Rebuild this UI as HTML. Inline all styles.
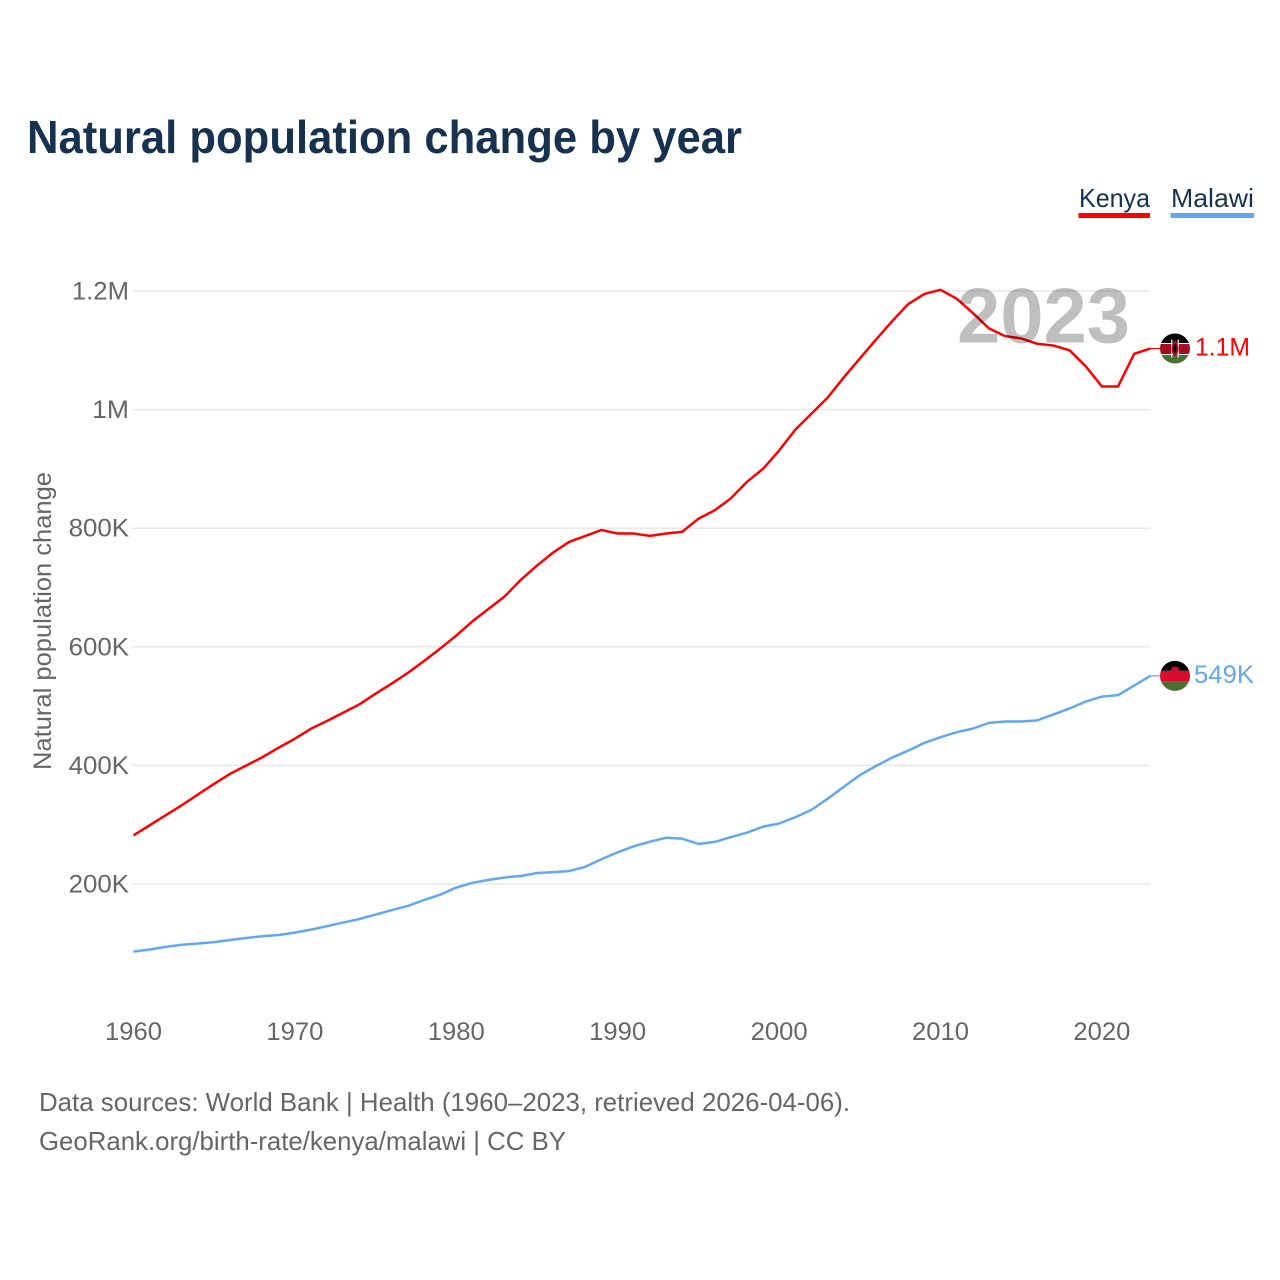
<!DOCTYPE html>
<html lang="en">
<head>
<meta charset="utf-8">
<title>Natural population change by year</title>
<style>
html,body{margin:0;padding:0;background:#fff;width:1280px;height:1280px;overflow:hidden}
svg{display:block}
text{font-family:"Liberation Sans",sans-serif}
</style>
</head>
<body>
<svg id="chart" xmlns="http://www.w3.org/2000/svg" width="1280" height="1280" viewBox="0 0 1280 1280">
  <defs>
    <clipPath id="flag-clip"><circle cx="0" cy="0" r="15"></circle></clipPath>
  </defs>
  <rect x="0" y="0" width="1280" height="1280" fill="#ffffff"></rect>

  <text x="27" y="153" font-size="46" font-weight="700" fill="#17324f" textLength="715" lengthAdjust="spacingAndGlyphs">Natural population change by year</text>

  <g>
    <g>
      <text x="1079" y="207" font-size="26" fill="#17324f" textLength="71" lengthAdjust="spacingAndGlyphs">Kenya</text>
      <rect x="1078.5" y="213" width="71.5" height="5" fill="#ff0000"></rect>
    </g>
    <g>
      <text x="1171" y="207" font-size="26" fill="#17324f" textLength="83" lengthAdjust="spacingAndGlyphs">Malawi</text>
      <rect x="1170.5" y="213" width="83.5" height="5" fill="#62a8ee"></rect>
    </g>
  </g>

  <g id="grid"></g>
  <g id="y-axis"></g>
  <g id="x-axis"></g>
  <text transform="translate(51,770) rotate(-90)" x="0" y="0" font-size="25" fill="#666666" textLength="298" lengthAdjust="spacingAndGlyphs">Natural population change</text>

  <g id="series"></g>

  <text x="957" y="342.5" font-size="78" font-weight="700" fill="#000000" fill-opacity="0.25" textLength="173" lengthAdjust="spacingAndGlyphs">2023</text>

  <g id="flag-kenya">
    <g clip-path="url(#flag-clip)">
      <rect x="-16" y="-16" width="32" height="32" fill="#ffffff"></rect>
      <rect x="-16" y="-16" width="32" height="10.5" fill="#000000"></rect>
      <rect x="-16" y="-4.5" width="32" height="10" fill="#a50a1e"></rect>
      <rect x="-16" y="6.5" width="32" height="10" fill="#4a7032"></rect>
      <rect x="-3.8" y="-9" width="1.2" height="18" fill="#ffffff"></rect>
      <rect x="2.6" y="-9" width="1.2" height="18" fill="#ffffff"></rect>
      <ellipse cx="0" cy="0" rx="3.4" ry="7.5" fill="#a50a1e"></ellipse>
      <ellipse cx="0" cy="0" rx="1.4" ry="4.5" fill="#000000"></ellipse>
    </g>
  </g>
  <g id="flag-malawi">
    <g clip-path="url(#flag-clip)">
      <rect x="-16" y="-16" width="32" height="11" fill="#000000"></rect>
      <rect x="-16" y="-5" width="32" height="10.5" fill="#dc0a2c"></rect>
      <rect x="-16" y="5.5" width="32" height="11" fill="#4a7032"></rect>
      <ellipse cx="0" cy="-6.5" rx="4" ry="2.8" fill="#c8102e"></ellipse>
    </g>
  </g>
  <g id="end-labels"></g>

  <text x="39" y="1111" font-size="26" fill="#666666" textLength="811" lengthAdjust="spacingAndGlyphs">Data sources: World Bank | Health (1960–2023, retrieved 2026-04-06).</text>
  <text x="39" y="1150" font-size="26" fill="#666666" textLength="527" lengthAdjust="spacingAndGlyphs">GeoRank.org/birth-rate/kenya/malawi | CC BY</text>
</svg>

<script>
const startYear = 1960;
const kenyaThousands = [282,299,316,333,351,369,386,400,414,430,445,462,475,489,503,521,538,556,576,597,619,643,664,685,713,737,759,777,787,797,791,791,787,791,794,816,830,850,878,900,931,966,993,1020,1054,1086,1118,1149,1178,1195,1202,1187,1163,1137,1124,1120,1111,1108,1100,1073,1039,1039,1094,1103];
const malawiThousands = [86,89.5,94,97.6,99.6,102,105.5,109,112,114,118,123,129,135,141,148.5,156,163,173,182,194,202,207,211,213.5,218.5,220,222,229,242,253.5,263.6,271.4,278,276.5,267.5,271,279,286.6,296.7,302,312.6,325,343.5,363.7,383.5,399,413,425,438,447.6,456,462,471.7,474,474,476,486,496,507.7,516,518.5,534.7,551];
const yTickValues = [200,400,600,800,1000,1200];
const yTickLabels = ['200K','400K','600K','800K','1M','1.2M'];
const xTickYears = [1960,1970,1980,1990,2000,2010,2020];
const endLabels = ['1.1M','549K'];

const NS = 'http://www.w3.org/2000/svg';
function xScale(year){ return 133.5 + (year - 1960) * 16.14; }
function yScale(thousands){ return 1002.6 - thousands * 0.593; }
function textWidth(label){
  let w = 0;
  for (const c of String(label)) {
    if (c === '.') w += 6;
    else if (c === 'M') w += 22.5;
    else if (c === 'K') w += 17.5;
    else w += 14.3;
  }
  return w;
}
function make(tag, attrs, parent){
  const el = document.createElementNS(NS, tag);
  for (const k in attrs) el.setAttribute(k, attrs[k]);
  parent.appendChild(el);
  return el;
}

const grid = document.getElementById('grid');
const yAxis = document.getElementById('y-axis');
yTickValues.forEach(function(v, i){
  const line = make('line', {x1:132.5, x2:1150, y1:yScale(v), y2:yScale(v), stroke:'#e9e9e9', 'stroke-width':1.5}, grid);
  
  
  const w = textWidth(yTickLabels[i]);
  const t = make('text', {x:129 - w, y:yScale(v) + 8.5, 'font-size':25, fill:'#666666', textLength:w, lengthAdjust:'spacingAndGlyphs'}, yAxis);
  t.textContent = yTickLabels[i];
  
  
});

const xAxis = document.getElementById('x-axis');
xTickYears.forEach(function(yr){
  const t = make('text', {x:xScale(yr) - 28.5, y:1040, 'font-size':25, fill:'#666666', textLength:57, lengthAdjust:'spacingAndGlyphs'}, xAxis);
  t.textContent = String(yr);
  
  
});

function pathFor(values){
  return values.map(function(v, i){
    return (i ? 'L' : 'M') + xScale(startYear + i).toFixed(2) + ' ' + yScale(v).toFixed(2);
  }).join(' ');
}
const seriesGroup = document.getElementById('series');

const kenyaLine = make('path', {d:pathFor(kenyaThousands), fill:'none', stroke:'#ff0000', 'stroke-width':2.5, 'stroke-linejoin':'round'}, seriesGroup);



const malawiLine = make('path', {d:pathFor(malawiThousands), fill:'none', stroke:'#62a8ee', 'stroke-width':2.5, 'stroke-linejoin':'round'}, seriesGroup);



const lastYear = startYear + kenyaThousands.length - 1;
const kenyaEndY = yScale(kenyaThousands[kenyaThousands.length - 1]);
const malawiEndY = yScale(malawiThousands[malawiThousands.length - 1]);

const kenyaLead = make('line', {x1:xScale(lastYear), x2:1160, y1:kenyaEndY, y2:kenyaEndY, stroke:'#ff0000', 'stroke-width':1.2}, seriesGroup);



const malawiLead = make('line', {x1:xScale(lastYear), x2:1160, y1:malawiEndY, y2:malawiEndY, stroke:'#62a8ee', 'stroke-width':1.2}, seriesGroup);



document.getElementById('flag-kenya').setAttribute('transform', 'translate(1175,' + kenyaEndY + ')');
document.getElementById('flag-malawi').setAttribute('transform', 'translate(1175,' + malawiEndY + ')');

const endGroup = document.getElementById('end-labels');
const kenyaEnd = make('text', {x:1195, y:kenyaEndY + 7, 'font-size':25, fill:'#ff0000', textLength:55, lengthAdjust:'spacingAndGlyphs'}, endGroup);
kenyaEnd.textContent = endLabels[0];



const malawiEnd = make('text', {x:1194, y:malawiEndY + 7, 'font-size':25, fill:'#62a8ee', textLength:60, lengthAdjust:'spacingAndGlyphs'}, endGroup);
malawiEnd.textContent = endLabels[1];


</script>
</body>
</html>
